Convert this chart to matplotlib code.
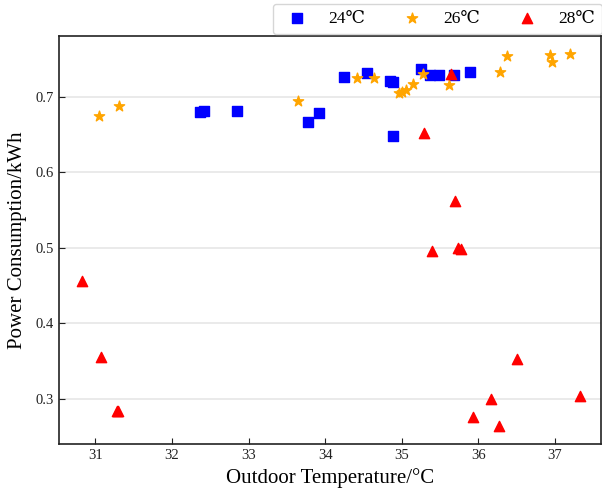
import matplotlib
matplotlib.use('Agg')
import matplotlib.pyplot as plt

# readings for the three set-points (outdoor temp in degC, power in kWh)
T24 = [32.37, 32.42, 32.85, 33.78, 33.92, 34.25, 34.55, 34.85, 34.89, 34.89,
       35.25, 35.37, 35.49, 35.68, 35.89]
P24 = [0.680, 0.681, 0.681, 0.666, 0.679, 0.726, 0.732, 0.721, 0.720, 0.648,
       0.737, 0.729, 0.729, 0.729, 0.733]

T26 = [31.04, 31.31, 33.64, 34.42, 34.64, 34.96, 35.00, 35.05, 35.15, 35.28,
       35.62, 36.29, 36.37, 36.94, 36.96, 37.20]
P26 = [0.674, 0.688, 0.694, 0.725, 0.725, 0.705, 0.707, 0.709, 0.717, 0.730,
       0.716, 0.733, 0.754, 0.755, 0.746, 0.757]

T28 = [30.83, 31.07, 31.28, 31.30, 35.29, 35.65, 35.70, 35.40, 35.74, 35.77,
       36.50, 36.16, 35.93, 36.27, 37.33]
P28 = [0.456, 0.355, 0.283, 0.284, 0.652, 0.730, 0.562, 0.496, 0.500, 0.498,
       0.353, 0.300, 0.275, 0.264, 0.303]

LABELS = ['24\u2103', '26\u2103', '28\u2103']

plt.rcParams['font.family'] = ['Liberation Serif', 'DejaVu Serif']
plt.rcParams['mathtext.fontset'] = 'stix'

fig = plt.figure(figsize=(6.02, 4.92), dpi=100)
ax = fig.add_axes([0.0975, 0.097, 0.9005, 0.8305])

h1 = ax.scatter(T24, P24, marker='s', s=55, color='blue', zorder=3)
h2 = ax.scatter(T26, P26, marker='*', s=60, color='orange', zorder=3)
h3 = ax.scatter(T28, P28, marker='^', s=55, color='red', zorder=3)

ax.set_xlim(30.52, 37.6)
ax.set_ylim(0.2395, 0.781)
ax.set_xticks([31, 32, 33, 34, 35, 36, 37])
ax.set_yticks([0.3, 0.4, 0.5, 0.6, 0.7])
ax.tick_params(direction='in', labelsize=10.5, length=4, colors='#222222')
ax.yaxis.grid(True, color='#e6e6e6', lw=1.2, zorder=0)
ax.set_axisbelow(True)
for sp in ax.spines.values():
    sp.set_linewidth(1.2)
    sp.set_color('#222222')

ax.set_xlabel('Outdoor Temperature/\u00b0C', fontsize=15, labelpad=4)
ax.set_ylabel('Power Consumption/kWh', fontsize=15, labelpad=6)

fig.legend([h1, h2, h3], LABELS, ncol=3, loc='upper right',
           bbox_to_anchor=(1.0, 0.992), borderaxespad=0, fontsize=12.5,
           frameon=True, fancybox=True, edgecolor='#cccccc',
           handletextpad=0.8, columnspacing=1.7, borderpad=0.4)

fig.savefig('out.png', dpi=100)
